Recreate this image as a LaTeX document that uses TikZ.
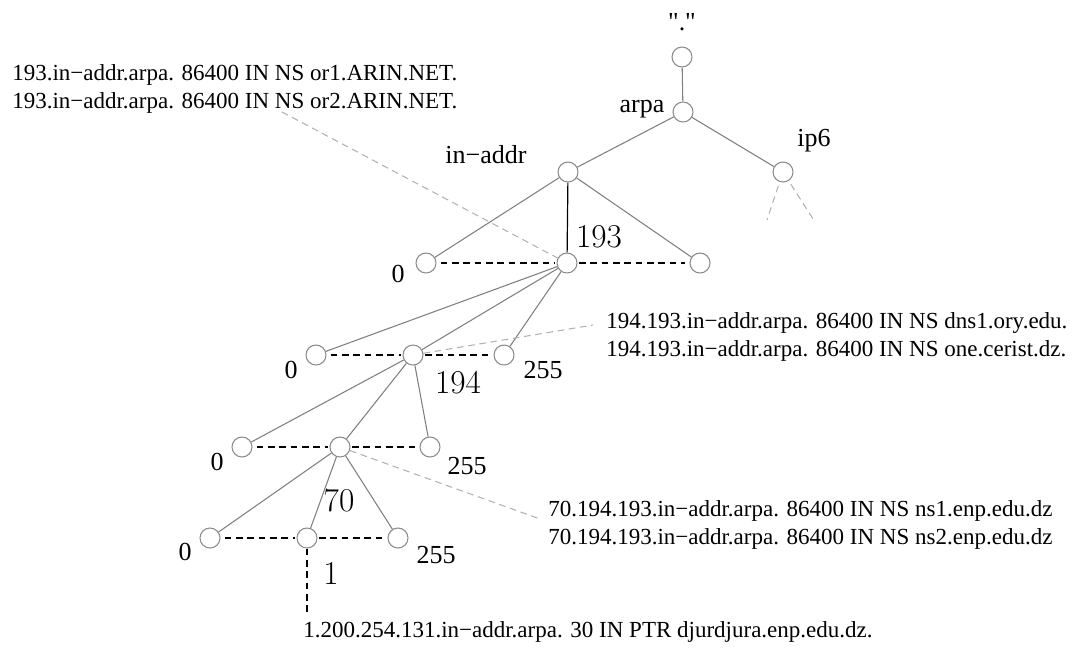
\documentclass[tikz,border=0pt]{standalone}
\usepackage{fontspec}
\newfontfamily\tms{Liberation Serif}
\begin{document}
\begin{tikzpicture}[x=0.75pt,y=-0.75pt,
  nd/.style={circle,draw=black!45,line width=0.8pt,minimum size=15pt,inner sep=0pt},
  tree/.style={draw=black!50,line width=0.8pt},
  blk/.style={draw=black,line width=0.9pt},
  dsh/.style={draw=black,line width=0.9pt,dash pattern=on 5pt off 3.5pt},
  gdsh/.style={draw=black!30,line width=0.8pt,dash pattern=on 5pt off 3.5pt},
  txt/.style={font=\tms\fontsize{17.25}{21}\selectfont,inner sep=0pt,align=left,anchor=west},
  lab/.style={font=\tms\fontsize{19.5}{22}\selectfont,inner sep=0pt},
  big/.style={font=\fontsize{25}{27}\selectfont,inner sep=0pt}]
\useasboundingbox (0,0) rectangle (1090,647);
% nodes
\node[nd] (root) at (682,57) {};
\node[nd] (arpa) at (683,112) {};
\node[nd] (inaddr) at (568,172) {};
\node[nd] (ip6) at (783,172) {};
\node[nd] (n193) at (567,263) {};
\node[nd] (a0) at (426,263) {};
\node[nd] (a255) at (700,263) {};
\node[nd] (n194) at (413,355) {};
\node[nd] (b0) at (316,355) {};
\node[nd] (b255) at (504,355) {};
\node[nd] (n70) at (340,447) {};
\node[nd] (c0) at (242,447) {};
\node[nd] (c255) at (430,447) {};
\node[nd] (n1) at (307,538) {};
\node[nd] (d0) at (210,538) {};
\node[nd] (d255) at (398,538) {};
% labels
\node[lab] (lroot) at (682,22) {\symbol{"22}.\symbol{"22}};
\node[lab] (larpa) at (642,109) {arpa};
\node[lab] (linaddr) at (486,155) {in−addr};
\node[lab] (lip6) at (814,141) {ip6};
\node[big] (l193) at (599,237) {193};
\node[lab] (la0) at (398,274) {0};
\node[big] (l194) at (458,383) {194};
\node[lab] (lb0) at (291,370) {0};
\node[lab] (lb255) at (543,370) {255};
\node[big] (l70) at (339,500) {70};
\node[lab] (lc0) at (217,462) {0};
\node[lab] (lc255) at (467,466) {255};
\node[big] (l1) at (331,573) {1};
\node[lab] (ld0) at (185,552) {0};
\node[lab] (ld255) at (436,555) {255};
% texts
\node[txt] (t193) at (12,89) {193.in−addr.arpa. 86400 IN NS or1.ARIN.NET.\\193.in−addr.arpa. 86400 IN NS or2.ARIN.NET.};
\node[txt] (t194) at (606,337) {194.193.in−addr.arpa. 86400 IN NS dns1.ory.edu.\\194.193.in−addr.arpa. 86400 IN NS one.cerist.dz.};
\node[txt] (t70) at (548,525) {70.194.193.in−addr.arpa. 86400 IN NS ns1.enp.edu.dz\\70.194.193.in−addr.arpa. 86400 IN NS ns2.enp.edu.dz};
\node[txt] (t1) at (303,632) {1.200.254.131.in−addr.arpa. 30 IN PTR djurdjura.enp.edu.dz.};
% free ends
\coordinate (s193) at (282,112);
\coordinate (s194) at (593,325);
\coordinate (s70) at (540,519);
\coordinate (ip6l) at (767,220);
\coordinate (ip6r) at (815,222);
\coordinate (bot) at (307,612);
% tree edges
\draw[tree] (root) -- (arpa);
\draw[tree] (arpa) -- (inaddr);
\draw[tree] (arpa) -- (ip6);
\draw[tree] (inaddr) -- (a0);
\draw[tree] (inaddr) -- (a255);
\draw[blk] (inaddr) -- (n193);
\draw[tree] (n193) -- (b0);
\draw[tree] (n193) -- (n194);
\draw[tree] (n193) -- (b255);
\draw[tree] (n194) -- (c0);
\draw[tree] (n194) -- (n70);
\draw[tree] (n194) -- (c255);
\draw[tree] (n70) -- (d0);
\draw[tree] (n70) -- (n1);
\draw[tree] (n70) -- (d255);
% sibling dashes
\draw[dsh,shorten <=3pt,shorten >=1pt] (a0) -- (n193);
\draw[dsh,shorten <=1pt,shorten >=3pt] (n193) -- (a255);
\draw[dsh,shorten <=3pt,shorten >=1pt] (b0) -- (n194);
\draw[dsh,shorten <=1pt,shorten >=3pt] (n194) -- (b255);
\draw[dsh,shorten <=3pt,shorten >=1pt] (c0) -- (n70);
\draw[dsh,shorten <=1pt,shorten >=3pt] (n70) -- (c255);
\draw[dsh,shorten <=3pt,shorten >=1pt] (d0) -- (n1);
\draw[dsh,shorten <=1pt,shorten >=3pt] (n1) -- (d255);
\draw[dsh] (n1) -- (bot);
% gray dashed pointers
\draw[gdsh] (s193) -- (n193);
\draw[gdsh] (n194) -- (s194);
\draw[gdsh] (n70) -- (s70);
\draw[gdsh,shorten <=3pt] (ip6) -- (ip6l);
\draw[gdsh,shorten <=3pt] (ip6) -- (ip6r);
\end{tikzpicture}
\end{document}
